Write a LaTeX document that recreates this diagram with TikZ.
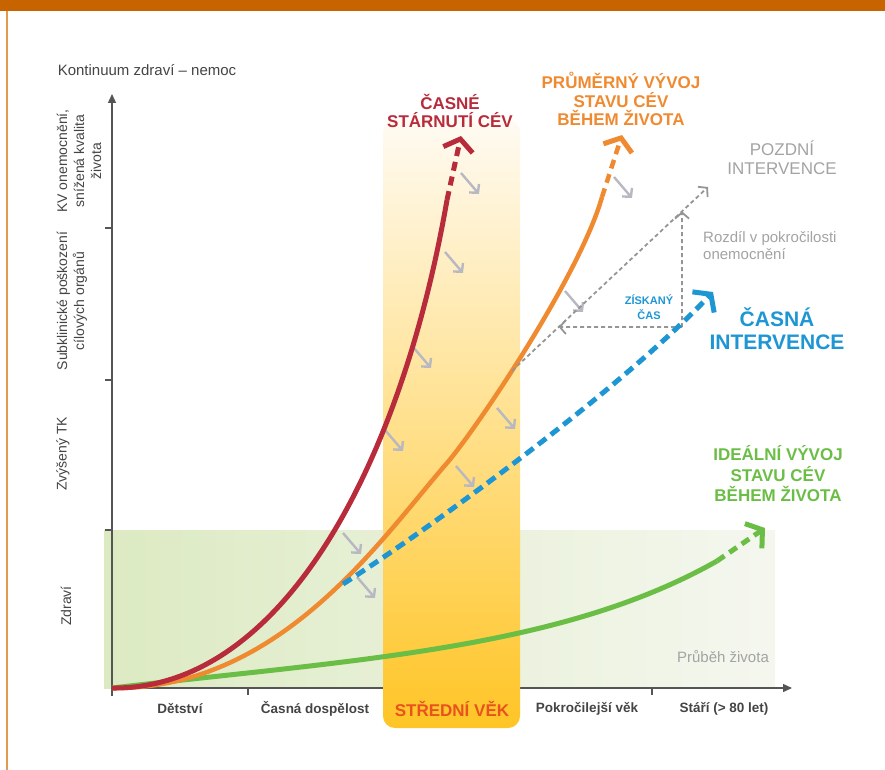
\documentclass[tikz,border=0pt]{standalone}
\usepackage{fontspec}
\setmainfont{Liberation Sans}
\usetikzlibrary{arrows.meta}
\usetikzlibrary{calc}

\definecolor{bannerorange}{HTML}{C86400}
\definecolor{frameorange}{HTML}{E29A4E}
\definecolor{axisgray}{HTML}{555555}
\definecolor{textgray}{HTML}{444444}
\definecolor{lategray}{HTML}{A3A3A3}
\definecolor{helpergray}{HTML}{959595}
\definecolor{hintgray}{HTML}{B8B8C2}
\definecolor{earlyred}{HTML}{B82B3B}
\definecolor{avgorange}{HTML}{F08A30}
\definecolor{idealgreen}{HTML}{6BBE45}
\definecolor{earlyblue}{HTML}{1E96D3}
\definecolor{midred}{HTML}{E8521E}
\definecolor{healthgreen}{HTML}{DCEAC2}
\definecolor{healthfade}{HTML}{F5F7EF}
\definecolor{bandtop}{HTML}{FFFBF3}
\definecolor{bandmid}{HTML}{FFE7A3}
\definecolor{bandbottom}{HTML}{FFC526}

\begin{document}
\begin{tikzpicture}[x=1pt,y=-1pt,
  axisline/.style={draw=axisgray,line width=1.4pt},
  axisarrow/.style={axisline,-{Triangle[length=9pt,width=8pt]}},
  stagelabel/.style={font=\fontsize{13.5}{16}\selectfont\bfseries,text=textgray,inner sep=0pt},
  sidelabel/.style={font=\fontsize{14}{17}\selectfont,text=textgray,rotate=90,align=center,inner sep=0pt},
  curvelabel/.style={font=\fontsize{17}{18.5}\selectfont\bfseries,align=center,inner sep=0pt},
  curvetip/.style={-{Straight Barb[length=11pt,width=30pt,line width=5pt]}},
  hintarrow/.style={draw=hintgray,line width=2.4pt,-{Straight Barb[length=6pt,width=13pt,line width=2.4pt]}},
  helperline/.style={draw=helpergray,line width=1.8pt,dash pattern=on 4pt off 3pt},
  helpertip/.style={-{Straight Barb[length=6pt,width=14pt,line width=1.8pt]}}]
\useasboundingbox (0,0) rectangle (885,770);

% frame
\fill[bannerorange] (0,0) rectangle (885,11);
\draw[frameorange,line width=1.5pt] (7,11) -- (7,770);

% healthy zone
\shade[left color=healthgreen,right color=healthfade] (104,530) rectangle (775,688);

% axes
\coordinate (origin) at (112,688);
\coordinate (yTop) at (112,94);
\coordinate (xEnd) at (792,688);
\draw[axisarrow] (112,696) -- (yTop);
\draw[axisarrow] (origin) -- (xEnd);
\foreach \t in {228,380,530}
  \draw[axisline] (105,\t) -- (112,\t);
\foreach \t in {248,652}
  \draw[axisline] (\t,688) -- (\t,695);

% middle age band
\shade[top color=bandtop,middle color=bandmid,bottom color=bandbottom,rounded corners=12pt]
  (383,120) rectangle (520,728);
\node[font=\fontsize{17}{20}\selectfont\bfseries,text=midred,inner sep=0pt] (midAge) at (452,709) {STŘEDNÍ VĚK};

% small hint arrows
\newcommand\hintArrow[2]{\draw[hintarrow] (#1,#2) -- ++(18,21);}
\foreach \x/\y in {461/173,445/252,413/347,385/430,343/533,357/577,497/408,456/466,565/291,614/177}
{
  \hintArrow{\x}{\y}
}

% ideal
\coordinate (greenEnd) at (717,561);
\coordinate (greenTip) at (765,528);
\draw[idealgreen,line width=5pt] (origin) .. controls (350,660) and (560,650) .. (greenEnd);
\draw[idealgreen,line width=5pt,dash pattern=on 9pt off 6pt,curvetip] (greenEnd) -- (greenTip);

% average
\coordinate (orangeMid) at (447,463);
\coordinate (orangeEnd) at (602,197);
\coordinate (orangeTip) at (622,135);
\draw[avgorange,line width=4.5pt] (origin) .. controls (280,690) and (380,540) .. (orangeMid)
  .. controls (477,428) and (580,275) .. (orangeEnd);
\path (orangeMid) .. controls (477,428) and (580,275) .. (orangeEnd) coordinate[pos=0.42] (lateStart);
\draw[avgorange,line width=4.5pt,dash pattern=on 9pt off 6pt,curvetip] (orangeEnd) -- (orangeTip);

% late intervention helpers
\coordinate (lateTip) at (708,187);
\coordinate (gainPoint) at (682,327);
\coordinate (gainLeft) at (500,327);
\coordinate (gainUp) at (682,150);
\draw[helperline,helpertip] (lateStart) -- (lateTip);
\draw[helperline,helpertip] (gainPoint) -- (intersection of lateStart--lateTip and gainPoint--gainLeft);
\draw[helperline,helpertip] (gainPoint) -- (intersection of lateStart--lateTip and gainPoint--gainUp);

% early ageing
\coordinate (redEnd) at (447,200);
\coordinate (redTip) at (461,136);
\draw[earlyred,line width=5pt] (origin) .. controls (280,690) and (400,470) .. (redEnd);
\draw[earlyred,line width=5pt,dash pattern=on 9pt off 6pt,curvetip] (redEnd) -- (redTip);

% early intervention
\coordinate (blueStart) at (343,584);
\coordinate (blueTip) at (713,292);
\draw[earlyblue,line width=5pt,dash pattern=on 10pt off 6pt,curvetip] (blueStart) .. controls (420,535) and (615,395) .. (blueTip);

% labels
\node[font=\fontsize{15}{18}\selectfont,text=textgray,inner sep=0pt] (yTitle) at (147,70) {Kontinuum zdraví – nemoc};
\node[sidelabel] (cvdLabel) at (79,161) {KV onemocnění,\\snížená kvalita\\života};
\node[sidelabel] (organLabel) at (72,301) {Subklinické poškození\\cílových orgánů};
\node[sidelabel] (bpLabel) at (63,454) {Zvýšený TK};
\node[sidelabel] (healthLabel) at (66,606) {Zdraví};

\node[stagelabel] (childLabel) at (180,709) {Dětství};
\node[stagelabel] (youngLabel) at (315,709) {Časná dospělost};
\node[stagelabel] (olderLabel) at (587,709) {Pokročilejší věk};
\node[stagelabel] (oldLabel) at (724,709) {Stáří (> 80 let)};
\node[font=\fontsize{15}{18}\selectfont,text=lategray,inner sep=0pt] (lifeLabel) at (723,657) {Průběh života};

\node[curvelabel,text=earlyred] (redLabel) at (450,111) {ČASNÉ\\STÁRNUTÍ CÉV};
\node[curvelabel,text=avgorange] (orangeLabel) at (621,99) {PRŮMĚRNÝ VÝVOJ\\STAVU CÉV\\BĚHEM ŽIVOTA};
\node[curvelabel,text=idealgreen,font=\fontsize{17}{20.5}\selectfont\bfseries] (greenLabel) at (778,474) {IDEÁLNÍ VÝVOJ\\STAVU CÉV\\BĚHEM ŽIVOTA};
\node[curvelabel,text=earlyblue,font=\fontsize{21}{23}\selectfont\bfseries] (blueLabel) at (777,329) {ČASNÁ\\INTERVENCE};
\node[curvelabel,text=lategray,font=\fontsize{17}{19}\selectfont] (lateLabel) at (782,158) {POZDNÍ\\INTERVENCE};
\node[font=\fontsize{15}{17}\selectfont,text=lategray,align=left,inner sep=0pt,anchor=west] (gapLabel) at (703,246) {Rozdíl v pokročilosti\\onemocnění};
\node[curvelabel,text=earlyblue,font=\fontsize{11}{15}\selectfont\bfseries] (gainLabel) at (649,307) {ZÍSKANÝ\\ČAS};
\end{tikzpicture}
\end{document}
